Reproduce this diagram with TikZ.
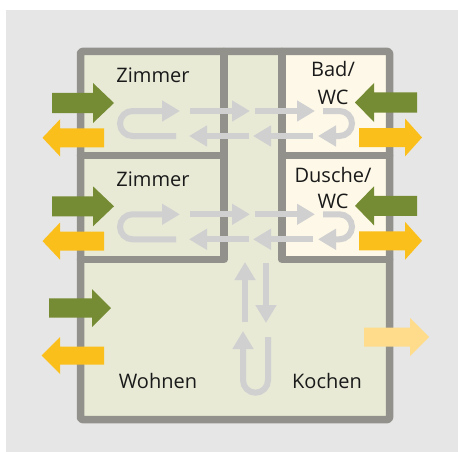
\documentclass[tikz,border=0pt]{standalone}
\usepackage{fontspec}
\setmainfont{Open Sans}
\usetikzlibrary{arrows.meta}
\definecolor{bggray}{HTML}{E6E6E6}
\definecolor{wallgray}{HTML}{93918C}
\definecolor{roomgreen}{HTML}{E8EAD6}
\definecolor{bathcream}{HTML}{FDF8E7}
\definecolor{airgreen}{HTML}{768C34}
\definecolor{airorange}{HTML}{FBBF1B}
\definecolor{airlight}{HTML}{FEDC8B}
\definecolor{flowgray}{HTML}{D0D0D0}
\definecolor{txt}{HTML}{1A1A1A}
% right-pointing block arrow: #1 start x, #2 head base x, #3 tip x, #4 centre y, #5 body half, #6 head half, #7 colour
\newcommand\BlkArrow[7]{%
  \fill[#7] (#1,#4-#5) -- (#2,#4-#5) -- (#2,#4-#6) -- (#3,#4) -- (#2,#4+#6) -- (#2,#4+#5) -- (#1,#4+#5) -- cycle;}
\begin{document}
\begin{tikzpicture}[x=1pt,y=-1pt,
  wall/.style={draw=wallgray,line width=7.5pt,line join=round,line cap=round},
  flow/.style={draw=flowgray,line width=6pt,-{Triangle[length=18pt,width=20pt]}},
  flowu/.style={flow,rounded corners=12.5pt},
  label/.style={text=txt,font=\fontsize{20}{26.5}\selectfont,inner sep=0pt,align=center}]
\useasboundingbox (0,0) rectangle (458,452);
\fill[white] (0,0) rectangle (458,452);
\fill[bggray] (6,10) rectangle (458,452);
% rooms
\fill[roomgreen] (80.5,51.5) rectangle (389.5,419.5);
\fill[bathcream] (282,51.5) rectangle (389.5,259.5);
% walls
\draw[wall,rounded corners=2pt] (80.5,51.5) rectangle (389.5,419.5);
\draw[wall] (80.5,259.5) -- (224,259.5) -- (224,51.5);
\draw[wall] (80.5,155.5) -- (224,155.5);
\draw[wall] (389.5,259.5) -- (282,259.5) -- (282,51.5);
\draw[wall] (282,155.5) -- (389.5,155.5);
% inner air flow, two rows
\foreach \d in {0,103.3}{
  \draw[flowu] (176,136+\d) -- (120,136+\d) -- (120,111+\d) -- (180,111+\d);
  \draw[flow] (190,111+\d) -- (250,111+\d);
  \draw[flow] (255,111+\d) -- (315,111+\d);
  \draw[flow] (249,136+\d) -- (189,136+\d);
  \draw[flow] (313,136+\d) -- (253,136+\d);
  \draw[flowu] (323,111+\d) -- (352,111+\d) -- (352,136+\d) -- (318,136+\d);
  % outside air
  \BlkArrow{52}{93}{114}{103+\d}{10}{20}{airgreen}
  \fill[airorange] (104,128.3+\d) -- (60,128.3+\d) -- (60,119.3+\d) -- (42.5,137.8+\d) -- (60,156.3+\d) -- (60,147.3+\d) -- (104,147.3+\d) -- cycle;
  \fill[airgreen] (417,92.5+\d) -- (374,92.5+\d) -- (374,83+\d) -- (355,102.5+\d) -- (374,122+\d) -- (374,112.5+\d) -- (417,112.5+\d) -- cycle;
  \BlkArrow{359}{405}{422}{137.5+\d}{9.5}{19}{airorange}
}
\draw[flow] (245,322) -- (245,262);
\draw[flow] (266,263) -- (266,323);
\draw[flowu] (268,337) -- (268,392.7) -- (243,392.7) -- (243,331);
\BlkArrow{49}{92}{111}{308}{9.7}{19}{airgreen}
\fill[airorange] (104,346.5) -- (60,346.5) -- (60,337) -- (41.7,355.5) -- (60,374) -- (60,364.5) -- (104,364.5) -- cycle;
\BlkArrow{364}{410}{429}{337}{9.5}{19}{airlight}
% labels
\node[label,anchor=base] (z1) at (153,83) {Zimmer};
\node[label,anchor=base] (z2) at (153,186) {Zimmer};
\node[label,anchor=base] (bad) at (333,77) {Bad/};
\node[label,anchor=base] (badwc) at (333,104) {WC};
\node[label,anchor=base] (du) at (333,182) {Dusche/};
\node[label,anchor=base] (duwc) at (333,208) {WC};
\node[label,anchor=base] (wo) at (158,388) {Wohnen};
\node[label,anchor=base] (ko) at (327,388) {Kochen};
\end{tikzpicture}
\end{document}
